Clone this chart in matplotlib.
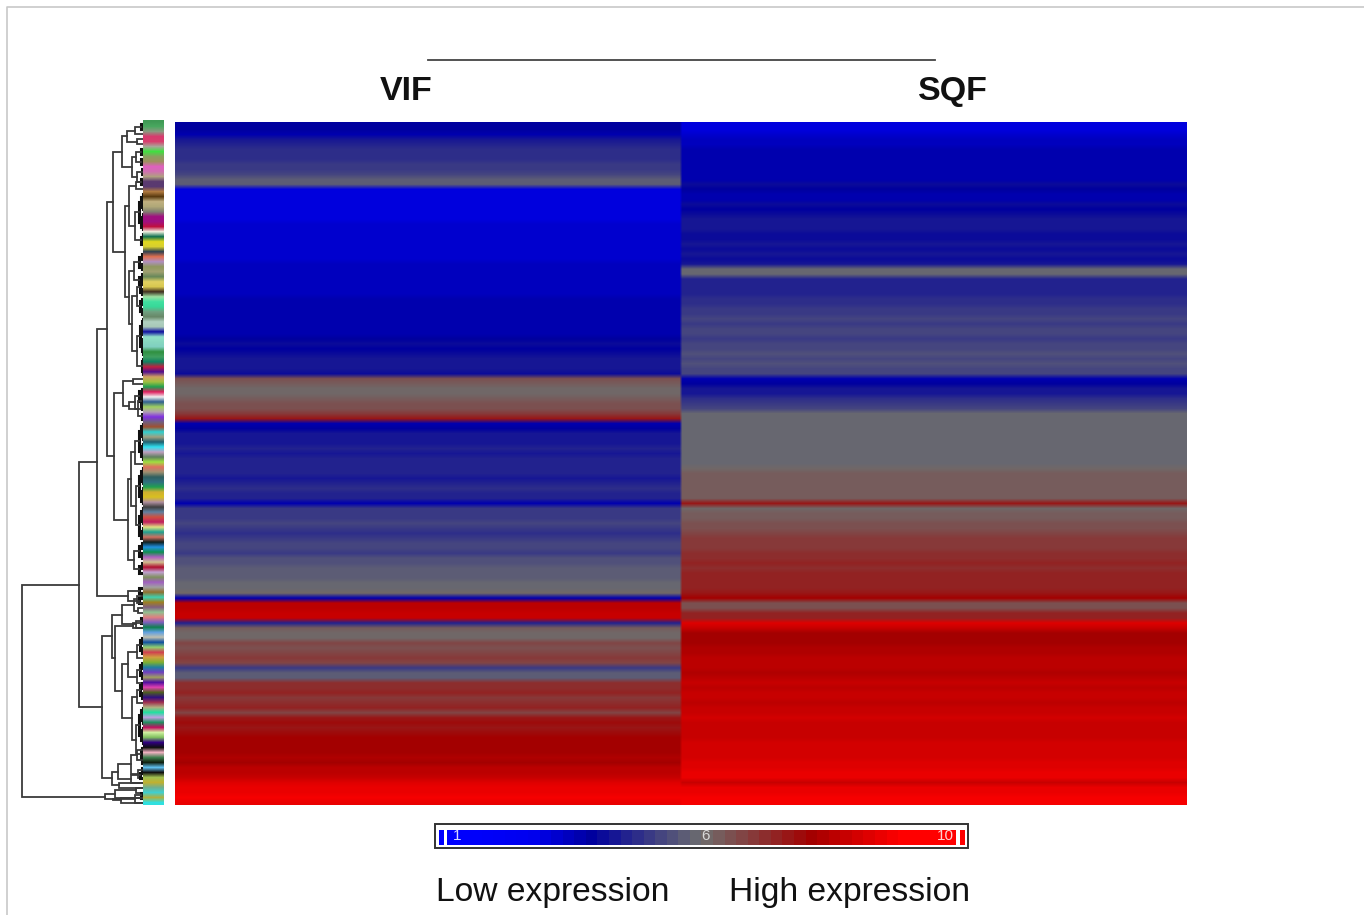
import numpy as np
import matplotlib
matplotlib.use('Agg')
import matplotlib.pyplot as plt
from matplotlib.colors import LinearSegmentedColormap, TwoSlopeNorm
from matplotlib.lines import Line2D

# expression per gene row, top to bottom
vif = [3.8,3.8,3.7,4.3,4.6,4.7,4.8,4.8,4.9,5.0,
       5.2,5.6,5.7,2.9,2.9,2.9,3.0,3.0,3.0,3.0,
       3.1,3.1,3.1,3.1,3.2,3.2,3.2,3.2,3.3,3.3,
       3.3,3.4,3.4,3.4,3.4,3.5,3.5,3.5,3.6,3.6,
       3.6,3.7,3.7,3.8,4.0,3.9,4.1,4.2,4.2,4.2,
       4.0,6.4,6.3,6.0,6.1,6.3,6.4,6.5,6.9,7.3,
       3.7,3.8,4.3,4.4,4.4,4.5,4.4,4.6,4.5,4.6,
       4.5,4.4,4.6,4.7,4.5,4.6,3.7,4.9,4.9,5.0,
       5.1,5.0,4.7,4.9,5.2,5.3,5.0,5.4,5.5,5.6,
       5.7,5.7,5.8,5.8,6.0,3.6,8.1,8.1,8.2,8.3,
       4.6,6.2,6.1,6.1,6.6,6.5,6.7,6.8,6.6,5.0,
       5.6,5.7,7.0,7.0,7.1,6.9,7.0,7.2,6.7,7.4,
       7.5,7.4,7.6,7.7,7.7,7.8,7.7,7.9,7.8,8.0,
       8.1,8.3,8.6,8.9,8.9,9.0,8.9]
sqf = [3.0,3.0,3.1,3.3,3.4,3.5,3.5,3.6,3.6,3.7,
       3.7,3.7,4.0,3.8,3.7,3.7,4.1,3.9,4.0,4.2,
       4.2,4.2,4.1,4.1,4.2,4.1,4.2,4.0,4.4,5.9,
       5.8,4.5,4.5,4.6,4.6,4.7,4.7,4.9,5.0,5.1,
       4.9,5.2,5.2,5.0,5.3,5.2,5.4,5.3,5.5,5.3,
       5.3,3.7,3.8,4.3,4.4,4.7,5.0,5.1,5.8,5.8,
       5.9,5.9,5.8,5.9,5.9,5.8,5.9,5.9,5.9,6.1,
       6.2,6.3,6.3,6.2,6.3,6.3,7.4,6.0,6.2,6.3,
       6.4,6.5,6.6,6.8,6.9,6.9,7.0,7.0,7.1,7.0,
       7.1,7.1,7.2,7.2,7.3,7.8,6.4,6.5,7.1,7.2,
       8.6,8.2,7.7,7.7,7.8,7.9,7.9,8.0,8.0,8.0,
       7.9,8.1,8.2,8.1,8.2,8.2,8.1,8.2,8.3,8.4,
       8.2,8.2,8.3,8.3,8.4,8.4,8.5,8.5,8.6,8.6,
       8.8,8.8,8.2,8.9,8.9,9.0,9.0]

# colour strip next to the dendrogram
row_colors = ['#3f9a55','#4aa860','#8a9a80','#d83a6e','#d8406e','#a8a898','#40e040','#8aa060','#a09060','#e060c0',
              '#d070b0','#b0a080','#5a3a70','#5a3a70','#b07a40','#5a3a10','#c0b080','#b0a878','#808070','#a01080',
              '#a01080','#c01040','#f0f0e0','#107050','#e0d820','#d8d030','#304050','#e07050','#b090c0','#909860',
              '#a0a070','#68885a','#e0d060','#d8c850','#403020','#9de0a0','#40e0a0','#38d898','#70a080','#688868',
              '#b0d0c0','#a8c8b8','#1010a0','#90e0c8','#88d8c0','#80d0c0','#309040','#40a060','#108060','#c02040',
              '#501090','#d0a060','#a0c040','#20a050','#e02060','#f0f0f0','#306090','#a0d060','#b0a0b0','#8030e0',
              '#706080','#a05030','#30d0d0','#a0a080','#206070','#30e0f0','#c0a0c0','#608060','#a0e040','#e07060',
              '#a09070','#306060','#307080','#20a050','#d0b030','#d8c020','#b090a0','#404040','#6080a0','#d05040',
              '#c02060','#e0e080','#20a090','#d07060','#102020','#2090e0','#109050','#b060c0','#d0c090','#b01030',
              '#c0a0d0','#809060','#a060c0','#a0a0a0','#907030','#40d0b0','#a08020','#806080','#90c090','#e08080',
              '#8060c0','#108050','#60a0e0','#c0c0b0','#1050a0','#90d070','#d04050','#d0a040','#80b030','#2080a0',
              '#7040c0','#a0a060','#5010a0','#e040b0','#506020','#301080','#a03050','#b0b080','#20e0a0','#c0a0e0',
              '#209060','#c01060','#d0f0a0','#80c060','#300080','#101010','#f0b0c0','#408050','#102010','#60c0f0',
              '#101010','#a0c050','#c0b030','#70b090','#40d0d0','#b0b040','#30e0e0']

col_names = ['VIF', 'SQF']
bar_ticks = ['1', '6', '10']

fig = plt.figure(figsize=(13.64, 9.15), dpi=100, facecolor='white')
plt.rcParams['font.family'] = ['Liberation Sans', 'DejaVu Sans']
W, H = 1364.0, 915.0


def px_axes(x0, y0, x1, y1):
    ax = fig.add_axes([x0 / W, 1 - y1 / H, (x1 - x0) / W, (y1 - y0) / H])
    ax.set_axis_off()
    return ax


# t positions of the colour stops; 6 sits in the middle of the bar
cmap = LinearSegmentedColormap.from_list('expr', [
    (0.00, (0, 0, 1)), (0.16, (0, 0, 0.94)), (0.28, (0, 0, 0.62)),
    (0.50, (0.43, 0.43, 0.43)), (0.72, (0.64, 0, 0)), (0.90, (1, 0, 0)),
    (1.00, (1, 0, 0))], N=44)
norm = TwoSlopeNorm(vmin=1, vcenter=6, vmax=10)

# heatmap, columns repeated so the smoothing only softens the rows
ax = px_axes(175, 122, 1187, 805)
mat = np.repeat(np.column_stack([vif, sqf]), 200, axis=1)
ax.imshow(mat, cmap=cmap, norm=norm, aspect='auto',
          interpolation='bilinear', interpolation_stage='rgba')
n_rows = len(vif)

# colour strip
ax = px_axes(143, 120, 164, 805)
rgb = np.array([matplotlib.colors.to_rgb(c) for c in row_colors])[:, None, :]
ax.imshow(np.repeat(rgb, 4, axis=1), aspect='auto', interpolation='bilinear')


# small clade: neighbouring rows joined pairwise up to top height d
def clade(a, b, d):
    nodes = list(range(a, b + 1))
    levels = int(np.ceil(np.log2(len(nodes)))) if len(nodes) > 1 else 1
    lev = 1
    while len(nodes) > 1:
        h = d * (lev / levels) ** 2
        nodes = [(h, nodes[i], nodes[i + 1]) if i + 1 < len(nodes) else nodes[i]
                 for i in range(0, len(nodes), 2)]
        lev += 1
    return nodes[0]


# tree: (height, upper child, lower child), a bare number is a row
upper = (30,
         (21, (16, clade(0, 2, 8), clade(3, 4, 6)),
              (11, clade(5, 8, 7), clade(9, 12, 6))),
         (18, (14, clade(11, 13, 7), clade(14, 24, 8)),
              (14, clade(26, 32, 9), (11, clade(31, 38, 6), clade(39, 50, 6)))))
middle = (29,
          (20, clade(51, 52, 10), (14, clade(53, 57, 8), clade(54, 59, 5))),
          (15, (12, clade(60, 68, 8), clade(69, 83, 7)), clade(84, 90, 9)))
lower_a = (31,
           (21, (9, clade(94, 96, 6), clade(97, 98, 5)), clade(99, 101, 7)),
           (28, clade(100, 101, 10),
                (21, (15, clade(103, 107, 6), clade(108, 112, 6)),
                     (11, clade(112, 116, 6), clade(117, 127, 7)))))
lower_b = (31,
           (25, (12, clade(125, 128, 6), clade(129, 131, 5)), clade(130, 132, 12)),
           clade(132, 133, 24))
tree = (121,
        (64,
         (46, (36, upper, middle), clade(93, 96, 15)),
         (41, lower_a, lower_b)),
        (38, clade(133, 135, 28), (30, clade(134, 136, 8), clade(135, 136, 22))))


def draw_node(ax, node):
    # returns the y position and height of the node
    if not isinstance(node, tuple):
        return node, 0
    h, top, bottom = node
    y0, h0 = draw_node(ax, top)
    y1, h1 = draw_node(ax, bottom)
    # the twigs run together into a black band next to the strip
    low = h < 5
    ax.plot([h0, h, h, h1], [y0, y0, y1, y1], color='#111111' if low else '#3a3a3a',
            lw=2.2 if low else 1.3, solid_joinstyle='miter')
    return (y0 + y1) / 2, h


ax = px_axes(22 - 1, 122, 143, 805)
draw_node(ax, tree)
ax.set_xlim(122, 0)
ax.set_ylim(n_rows - 0.5, -0.5)

# group labels and the line above them
fig.add_artist(Line2D([428 / W, 935 / W], [1 - 60 / H] * 2, color='#444444', lw=1.3))
fig.text(406 / W, 1 - 100 / H, col_names[0], fontsize=24.5, fontweight='bold',
         ha='center', va='baseline', color='#111111')
fig.text(953 / W, 1 - 100 / H, col_names[1], fontsize=24.5, fontweight='bold',
         ha='center', va='baseline', color='#111111')

# colour key
box = plt.Rectangle((435 / W, 1 - 848 / H), 533 / W, 24 / H, transform=fig.transFigure,
                    fc='white', ec='#333333', lw=1.4, zorder=-1)
fig.add_artist(box)
ax = px_axes(447, 830, 955, 845)
ax.imshow(np.linspace(0, 1, 44)[None, :], cmap=cmap, aspect='auto', interpolation='nearest')
ax = px_axes(439, 830, 444, 845)
ax.imshow([[0.0]], cmap=cmap, vmin=0, vmax=1, aspect='auto')
ax = px_axes(960, 830, 965, 845)
ax.imshow([[1.0]], cmap=cmap, vmin=0, vmax=1, aspect='auto')
for lab, xp, c in zip(bar_ticks, [457, 706, 945], ['#d8d8ff', '#d8d8d8', '#ffd0d0']):
    fig.text(xp / W, 1 - 836 / H, lab, fontsize=11, ha='center', va='center', color=c)

fig.text(436 / W, 1 - 901 / H, 'Low expression', fontsize=24.2, ha='left', va='baseline', color='#111111')
fig.text(729 / W, 1 - 901 / H, 'High expression', fontsize=24.2, ha='left', va='baseline', color='#111111')

# grey border of the source image
fig.add_artist(Line2D([7 / W, 7 / W, 1], [0, 1 - 7 / H, 1 - 7 / H], color='#c8c8c8', lw=1.2))

fig.savefig('out.png', dpi=100)
